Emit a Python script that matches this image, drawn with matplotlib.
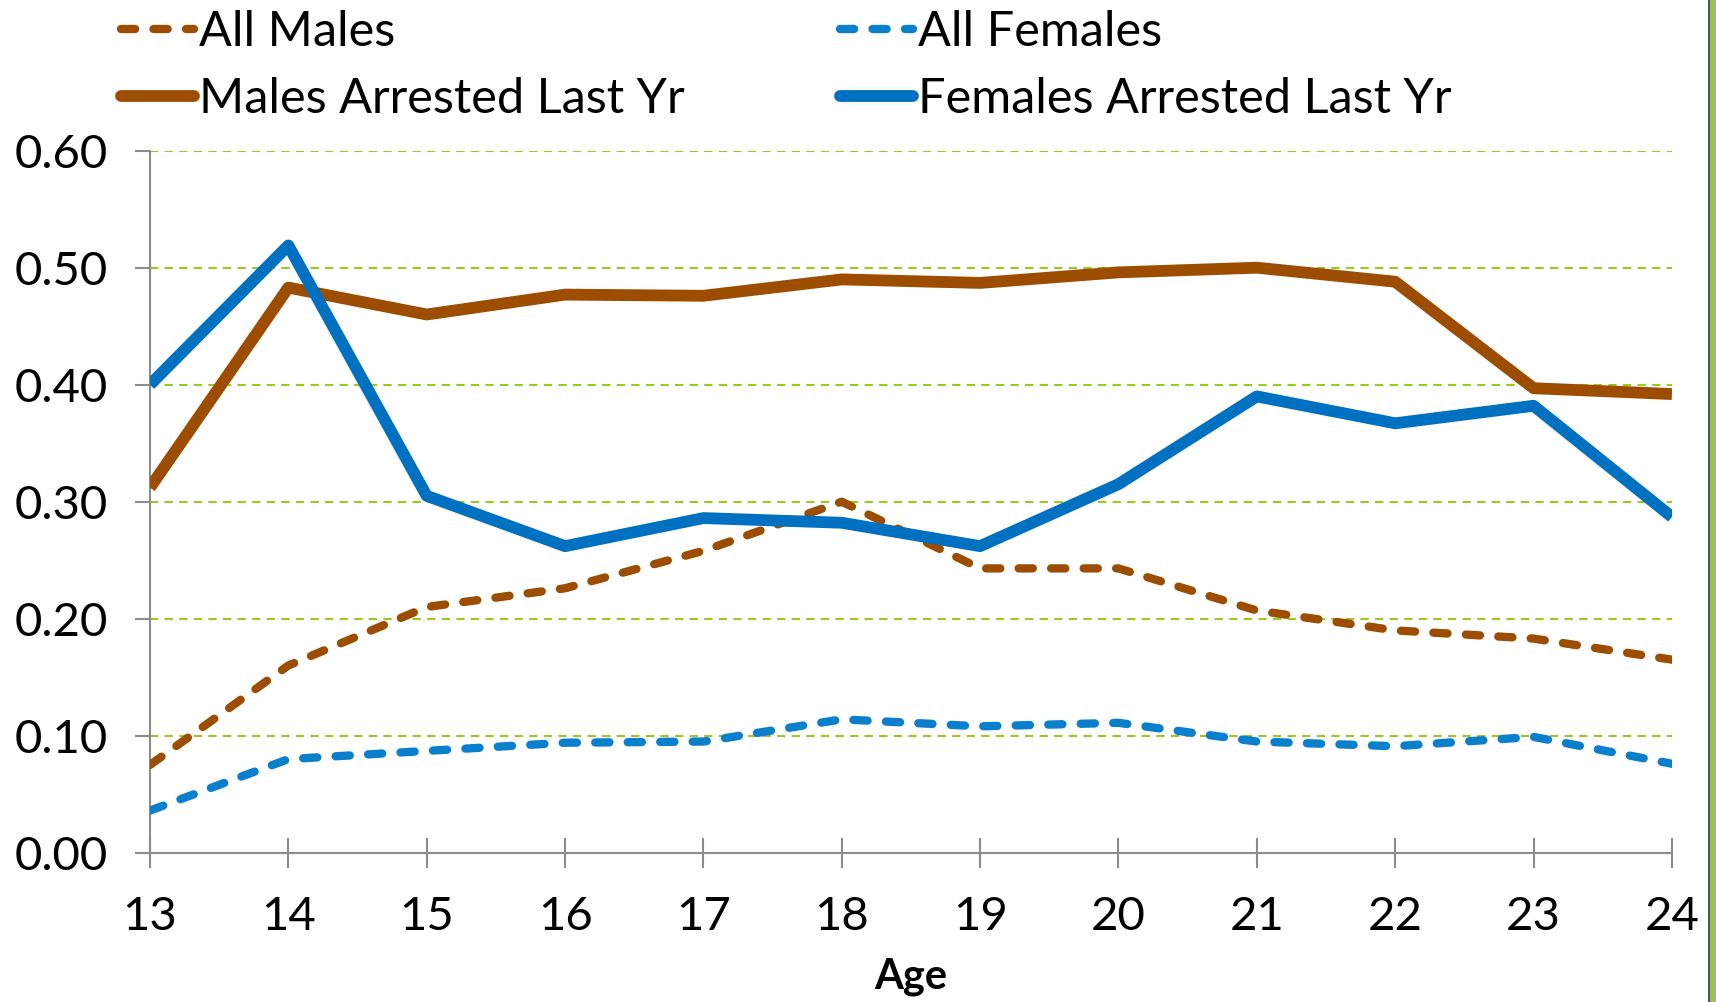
import matplotlib
matplotlib.use("Agg")
import matplotlib.pyplot as plt
from matplotlib.patches import Rectangle

ages = [13, 14, 15, 16, 17, 18, 19, 20, 21, 22, 23, 24]
all_males = [0.075, 0.160, 0.210, 0.226, 0.258, 0.300, 0.243, 0.243, 0.207, 0.190, 0.183, 0.165]
all_females = [0.036, 0.080, 0.087, 0.094, 0.095, 0.114, 0.108, 0.111, 0.095, 0.091, 0.099, 0.076]
males_arrested = [0.312, 0.483, 0.460, 0.477, 0.476, 0.490, 0.487, 0.496, 0.500, 0.488, 0.397, 0.392]
females_arrested = [0.400, 0.519, 0.305, 0.262, 0.286, 0.282, 0.262, 0.315, 0.390, 0.367, 0.382, 0.287]
yticks = [0.0, 0.1, 0.2, 0.3, 0.4, 0.5, 0.6]

BROWN = "#9C4D00"
BLUE = "#0070C0"
BLUE_D = "#0A80CC"
GREEN = "#9ACA1C"
GRAY = "#8C8C8C"

plt.rcParams['font.family'] = ['Lato', 'DejaVu Sans']

fig = plt.figure(figsize=(17.16, 10.02), dpi=100)
ax = fig.add_axes([0.0874, 0.149, 0.9743 - 0.0874, 0.8496 - 0.149])

for y in yticks[1:]:
    ax.axhline(y, color=GREEN, lw=1.5, ls=(0, (4, 3)), zorder=1)

dash = (0, (1.7, 2.2))
l1, = ax.plot(ages, all_males, color=BROWN, lw=6, ls=dash, dash_capstyle='round', zorder=3, label="All Males")
l2, = ax.plot(ages, all_females, color=BLUE_D, lw=6, ls=dash, dash_capstyle='round', zorder=3, label="All Females")
l3, = ax.plot(ages, males_arrested, color=BROWN, lw=8.5, solid_capstyle='butt', zorder=4, label="Males Arrested Last Yr")
l4, = ax.plot(ages, females_arrested, color=BLUE, lw=8.5, solid_capstyle='butt', zorder=5, label="Females Arrested Last Yr")

ax.set_xlim(13, 24)
ax.set_ylim(0, 0.6)
ax.set_xticks(ages)
ax.set_yticks(yticks)
ax.set_yticklabels([f"{v:.2f}" for v in yticks])
ax.tick_params(axis='both', labelsize=34, colors=GRAY, labelcolor='black', width=1.5, length=11)
ax.tick_params(axis='x', direction='inout', length=22, pad=20)
ax.tick_params(axis='y', direction='out', pad=19)
for s in ['top', 'right']:
    ax.spines[s].set_visible(False)
for s in ['left', 'bottom']:
    ax.spines[s].set_color(GRAY)
    ax.spines[s].set_linewidth(1.5)
ax.set_xlabel("Age", fontsize=30, fontweight='bold', labelpad=14)

leg = fig.legend(handles=[l1, l3, l2, l4], ncol=2, loc='upper left',
                 bbox_to_anchor=(0.045, 1.034), frameon=False, fontsize=35,
                 handlelength=1.5, handletextpad=0.1, columnspacing=3.2,
                 labelspacing=0.47)
for h in leg.legend_handles:
    h.set_solid_capstyle('round')

fig.patches.append(Rectangle((1709 / 1716, 0), 1 - 1709 / 1716, 1, transform=fig.transFigure,
                             facecolor="#9CC05A", edgecolor="none", zorder=10))
fig.patches.append(Rectangle((1708 / 1716, 0), 1.5 / 1716, 1, transform=fig.transFigure,
                             facecolor="#555555", edgecolor="none", zorder=11))

fig.savefig("out.png", dpi=100)
